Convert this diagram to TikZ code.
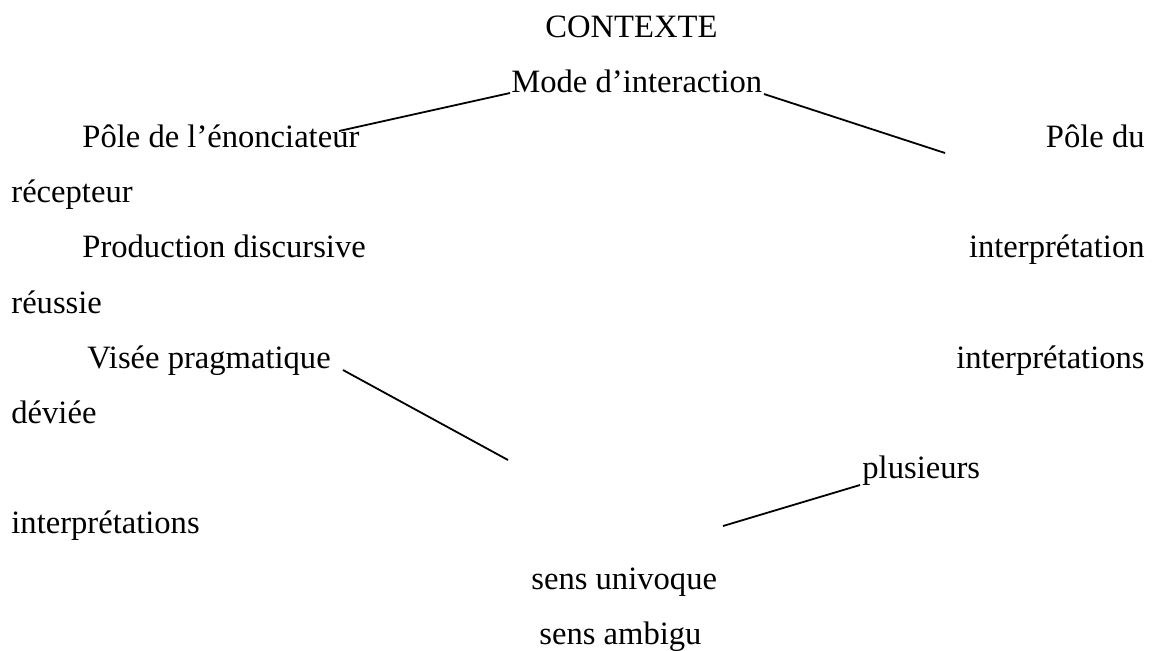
\documentclass[tikz,border=0pt]{standalone}
\usepackage{fontspec}
\setmainfont{Liberation Serif}
\begin{document}
\begin{tikzpicture}[x=0.5pt,y=-0.5pt,
  lbl/.style={inner sep=0pt,font=\fontsize{16.3}{19}\selectfont},
  link/.style={line width=0.9pt}]
\useasboundingbox (0,0) rectangle (1157,650);
\node[lbl,anchor=base west] (ctx) at (545,37) {CONTEXTE};
\node[lbl,anchor=base west] (mode) at (511,92.2) {Mode d’interaction};
\node[lbl,anchor=base west] (pen) at (82,147.4) {Pôle de l’énonciateur};
\node[lbl,anchor=base east] (prec) at (1145,147.4) {Pôle du};
\node[lbl,anchor=base west] (rec) at (11,202.6) {récepteur};
\node[lbl,anchor=base west] (prod) at (82,257.8) {Production discursive};
\node[lbl,anchor=base east] (interp) at (1145,257.8) {interprétation};
\node[lbl,anchor=base west] (reu) at (11,313) {réussie};
\node[lbl,anchor=base west] (vis) at (87,368.2) {Visée pragmatique};
\node[lbl,anchor=base east] (interps) at (1145,368.2) {interprétations};
\node[lbl,anchor=base west] (dev) at (11,423.4) {déviée};
\node[lbl,anchor=base west] (plus) at (862,478.6) {plusieurs};
\node[lbl,anchor=base west] (interps2) at (11,533.8) {interprétations};
\node[lbl,anchor=base west] (univ) at (531,589) {sens univoque};
\node[lbl,anchor=base west] (amb) at (539,644) {sens ambigu};
\coordinate (a1) at (339,131);
\coordinate (a2) at (510,93);
\coordinate (b1) at (764,94);
\coordinate (b2) at (945,153);
\coordinate (c1) at (343,370);
\coordinate (c2) at (508,460);
\coordinate (d1) at (723,526);
\coordinate (d2) at (860,485);
\draw[link] (a1) -- (a2);
\draw[link] (b1) -- (b2);
\draw[link] (c1) -- (c2);
\draw[link] (d1) -- (d2);
\end{tikzpicture}
\end{document}
